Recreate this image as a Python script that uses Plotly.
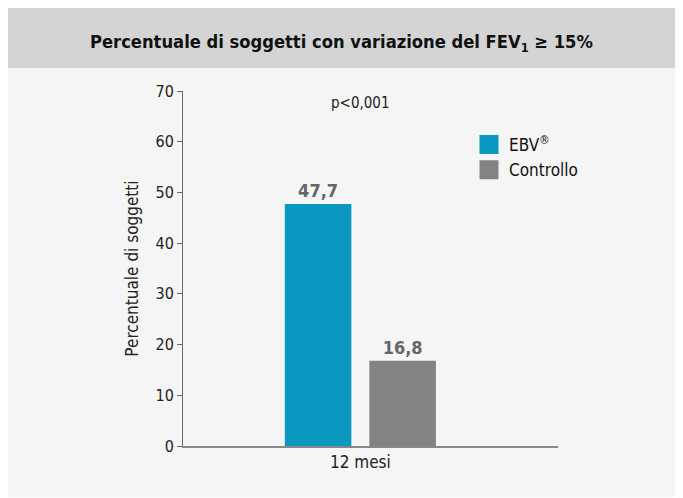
import plotly.graph_objects as go

categories = ["12 mesi"]
series_names = ["EBV<sup>®</sup>", "Controllo"]
ebv_values = [47.7]
ctrl_values = [16.8]
ebv_labels = ["47,7"]
ctrl_labels = ["16,8"]
y_ticks = [0, 10, 20, 30, 40, 50, 60, 70]

EBV_COLOR = "#0a97c0"
CTRL_COLOR = "#838383"

W, H = 683, 489
OFF = 8  # page body margin
L, R, T, B = 183 - OFF, 558 - OFF, 91 - OFF, 446 - OFF  # plot area in figure pixels

def px(x):
    return (x - OFF - L) / (R - L)

def py(y):
    return (B - (y - OFF)) / (B - T)

FONT = "DejaVu Sans Condensed, Liberation Sans Narrow, Roboto Condensed, sans-serif"

fig = go.Figure()
fig.add_trace(go.Bar(
    x=categories, y=ebv_values, name=series_names[0], showlegend=False,
    marker=dict(color=EBV_COLOR, line=dict(width=0)),
    text=ebv_labels, textposition="outside",
    textfont=dict(family=FONT, size=18, color="#666666", weight="bold"),
    cliponaxis=False,
))
fig.add_trace(go.Bar(
    x=categories, y=ctrl_values, name=series_names[1], showlegend=False,
    marker=dict(color=CTRL_COLOR, line=dict(width=0)),
    text=ctrl_labels, textposition="outside",
    textfont=dict(family=FONT, size=18, color="#666666", weight="bold"),
    cliponaxis=False,
))
# legend entries (larger square swatches, as in the reference)
for name, col in zip(series_names, [EBV_COLOR, CTRL_COLOR]):
    fig.add_trace(go.Scatter(
        x=[None], y=[None], mode="markers", name=name,
        marker=dict(symbol="square", size=16, color=col, line=dict(color=col, width=3)),
    ))

shapes = [
    dict(type="rect", xref="paper", yref="paper", layer="below",
         x0=px(0), x1=px(700), y0=py(68), y1=py(-10),
         fillcolor="#d3d4d3", line=dict(width=0)),
]

annotations = [
    dict(text="<b>Percentuale di soggetti con variazione del FEV<sub>1</sub> ≥ 15%</b>",
         xref="paper", yref="paper", x=px(341), y=py(43), showarrow=False,
         xanchor="center", yanchor="middle",
         font=dict(family=FONT, size=18.2, color="#111111")),
    dict(text="p<0,001", xref="paper", yref="paper", x=px(360), y=py(103),
         showarrow=False, xanchor="center", yanchor="middle",
         font=dict(family=FONT, size=15, color="#222222")),
]

fig.update_layout(
    width=W, height=H,
    margin=dict(l=L, r=W - R, t=T, b=H - B, pad=0),
    paper_bgcolor="#f5f5f5", plot_bgcolor="rgba(0,0,0,0)",
    barmode="group", bargap=0.549, bargroupgap=0.213,
    font=dict(family=FONT, color="#222222"),
    showlegend=True,
    legend=dict(x=px(469), y=py(127), xanchor="left", yanchor="top",
                bgcolor="rgba(0,0,0,0)", font=dict(family=FONT, size=17, color="#111111"),
                tracegroupgap=13, itemsizing="trace", itemwidth=30),
    shapes=shapes, annotations=annotations,
    xaxis=dict(type="category", range=[-0.473, 0.527], showline=True,
               linecolor="#888888", linewidth=1.5, ticks="", showgrid=False,
               tickfont=dict(family=FONT, size=17, color="#222222")),
    yaxis=dict(range=[0, 70], tickvals=y_ticks, showline=True, linecolor="#666666",
               linewidth=1, ticks="outside", ticklen=5, tickcolor="#666666",
               showgrid=False, zeroline=False,
               tickfont=dict(family=FONT, size=16, color="#222222"),
               title=dict(text="Percentuale di soggetti", standoff=12,
                          font=dict(family=FONT, size=17, color="#222222"))),
)

fig.write_html("out.html")
